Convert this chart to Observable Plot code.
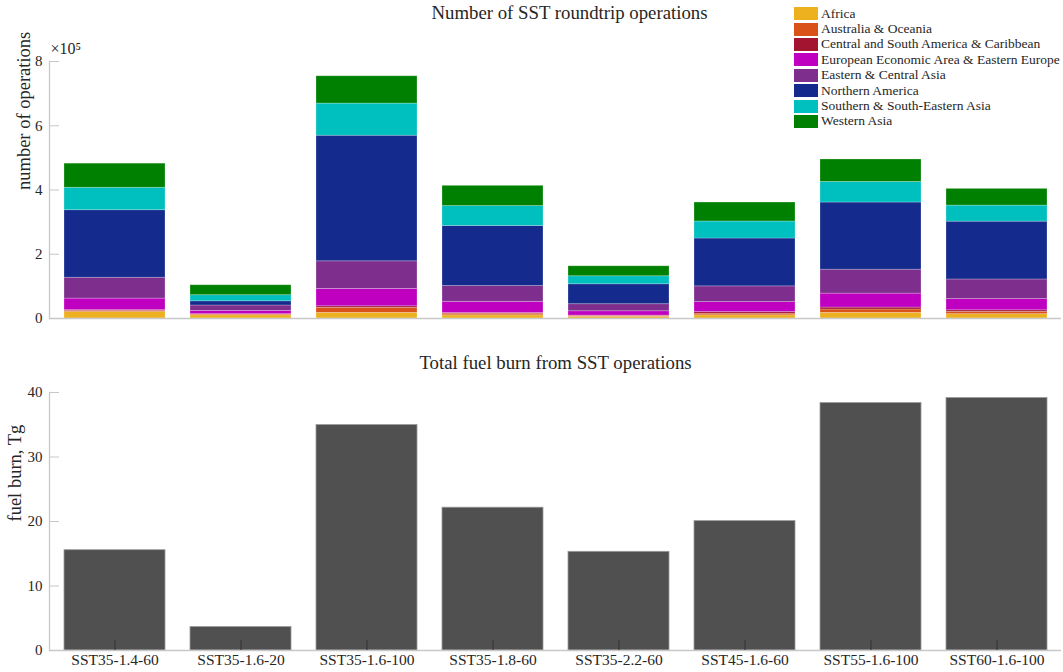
<!DOCTYPE html>
<html>
<head>
<meta charset="utf-8">
<script src="https://cdn.jsdelivr.net/npm/d3@7"></script>
<script src="https://cdn.jsdelivr.net/npm/@observablehq/plot@0.6"></script>
<style>
  html, body { margin: 0; padding: 0; background: #fff; }
  #wrap { position: relative; width: 1063px; height: 672px; overflow: hidden; font-family: "Liberation Serif", serif; }
  #topChart { position: absolute; left: 0; top: 0; }
  #bottomChart { position: absolute; left: 0; top: 340px; }
  #legendBox { position: absolute; left: 794px; top: 6px; }
  svg g[aria-label="y-axis tick"] { stroke: #c8c8c8; }
  svg g[aria-label="x-axis tick"] { stroke: #333; }
  svg g[aria-label="y-axis tick label"], svg g[aria-label="x-axis tick label"] { fill: #262626; }
  .lgd-swatch { padding-bottom: 0 !important; margin: 0 !important; height: 15.4px; }
  .lgd-swatch > svg { margin-right: 3px !important; }
</style>
</head>
<body>
<div id="wrap">
  <div id="topChart"></div>
  <div id="bottomChart"></div>
  <div id="legendBox"></div>
</div>
<script>
// ---- data ----
const scenarios = ["SST35-1.4-60", "SST35-1.6-20", "SST35-1.6-100", "SST35-1.8-60", "SST35-2.2-60", "SST45-1.6-60", "SST55-1.6-100", "SST60-1.6-100"];
const regions = ["Africa", "Australia & Oceania", "Central and South America & Caribbean", "European Economic Area & Eastern Europe", "Eastern & Central Asia", "Northern America", "Southern & South-Eastern Asia", "Western Asia"];
const regionColors = ["#EDB120", "#D95319", "#A2142F", "#C000C0", "#7E2F8E", "#142A8C", "#00BFBF", "#008000"];

// number of roundtrip operations per region (one value per scenario)
const africa       = [20000, 10000, 17500, 10000,  5000, 10000, 17500, 13500];
const australia    = [ 4000,  3000, 15500,  5000,  3000,  5000, 10500,  7000];
const centralSouth = [ 2000,   500,  5000,  2000,  1000,  5000,  6000,  5000];
const europe       = [36000, 10000, 54000, 35000, 13500, 31000, 43500, 35000];
const eastCentral  = [65000, 17000, 86000, 49000, 22000, 49000, 74500, 61000];
const northAmerica = [210000, 13000, 391000, 187000, 62000, 149000, 209000, 180000];
const southAsia    = [70000, 19000, 100000, 62000, 25000, 53000, 64000, 50000];
const westernAsia  = [75000, 31000, 85000, 63000, 31000, 59000, 70000, 52000];
const regionSeries = [africa, australia, centralSouth, europe, eastCentral, northAmerica, southAsia, westernAsia];

// total fuel burn, Tg
const fuelBurn = [15.55, 3.64, 34.95, 22.14, 15.3, 20.06, 38.37, 39.14];

const yTicksOps = [0, 200000, 400000, 600000, 800000];
const yTicksFuel = [0, 10, 20, 30, 40];

// ---- tables ----
const opsTable = [];
regions.forEach((r, i) => scenarios.forEach((s, j) => opsTable.push({scenario: s, region: r, value: regionSeries[i][j]})));
const fuelTable = scenarios.map((s, j) => ({scenario: s, fuel: fuelBurn[j]}));

const font = "'Liberation Serif', serif";
const axisColor = "#c8c8c8";
const textColor = "#262626";

// ---- top chart ----
const opsChart = Plot.plot({
  width: 1063, height: 340,
  marginLeft: 49, marginRight: 2, marginTop: 61, marginBottom: 22,
  style: {fontFamily: font, fontSize: "15px", color: textColor, background: "white"},
  x: {domain: scenarios, paddingInner: 0.2, paddingOuter: 0.1, axis: null},
  y: {domain: [0, 800000]},
  color: {domain: regions, range: regionColors},
  marks: [
    Plot.barY(opsTable, {x: "scenario", y: "value", fill: "region", stroke: "white", strokeOpacity: 0.3, strokeWidth: 0.8}),
    Plot.ruleY([0], {stroke: axisColor, strokeWidth: 1.3}),
    Plot.frame({anchor: "left", stroke: axisColor, strokeWidth: 1.3}),
    Plot.axisY({ticks: yTicksOps, tickFormat: d => d / 100000, tickSize: -10, tickPadding: 17, label: null, fontSize: 15}),
    Plot.text(["number of operations"], {frameAnchor: "left", rotate: -90, dx: -25, fontSize: 18.5, fill: textColor}),
    Plot.text(["×10⁵"], {frameAnchor: "top-left", textAnchor: "start", lineAnchor: "bottom", dx: 1, dy: -8, fontSize: 16, fill: textColor}),
    Plot.text(["Number of SST roundtrip operations"], {frameAnchor: "top", lineAnchor: "middle", dx: 14, dy: -49, fontSize: 18.8, fill: textColor})
  ]
});
document.getElementById("topChart").append(opsChart);

// ---- legend ----
const legendEl = Plot.legend({
  color: {type: "ordinal", domain: regions, range: regionColors},
  legend: "swatches", columns: 1, swatchWidth: 24, swatchHeight: 13,
  className: "lgd",
  style: {fontFamily: font, fontSize: "13.5px", color: textColor}
});
document.getElementById("legendBox").append(legendEl);

// ---- bottom chart ----
const fuelChart = Plot.plot({
  width: 1063, height: 332,
  marginLeft: 49, marginRight: 2, marginTop: 52, marginBottom: 22,
  style: {fontFamily: font, fontSize: "15px", color: textColor, background: "white", overflow: "visible"},
  x: {domain: scenarios, paddingInner: 0.2, paddingOuter: 0.1},
  y: {domain: [0, 40]},
  marks: [
    Plot.barY(fuelTable, {x: "scenario", y: "fuel", fill: "#505050", stroke: "#9a9a9a", strokeWidth: 0.8}),
    Plot.ruleY([0], {stroke: axisColor, strokeWidth: 1.3}),
    Plot.frame({anchor: "left", stroke: axisColor, strokeWidth: 1.3}),
    Plot.axisX({tickSize: -10, tickPadding: 13, label: null, fontSize: 15.5}),
    Plot.axisY({ticks: yTicksFuel, tickSize: -10, tickPadding: 17, label: null, fontSize: 15}),
    Plot.text(["fuel burn, Tg"], {frameAnchor: "left", rotate: -90, dx: -34, fontSize: 18.5, fill: textColor}),
    Plot.text(["Total fuel burn from SST operations"], {frameAnchor: "top", lineAnchor: "middle", dy: -30, fontSize: 18.8, fill: textColor})
  ]
});
document.getElementById("bottomChart").append(fuelChart);
</script>
</body>
</html>
